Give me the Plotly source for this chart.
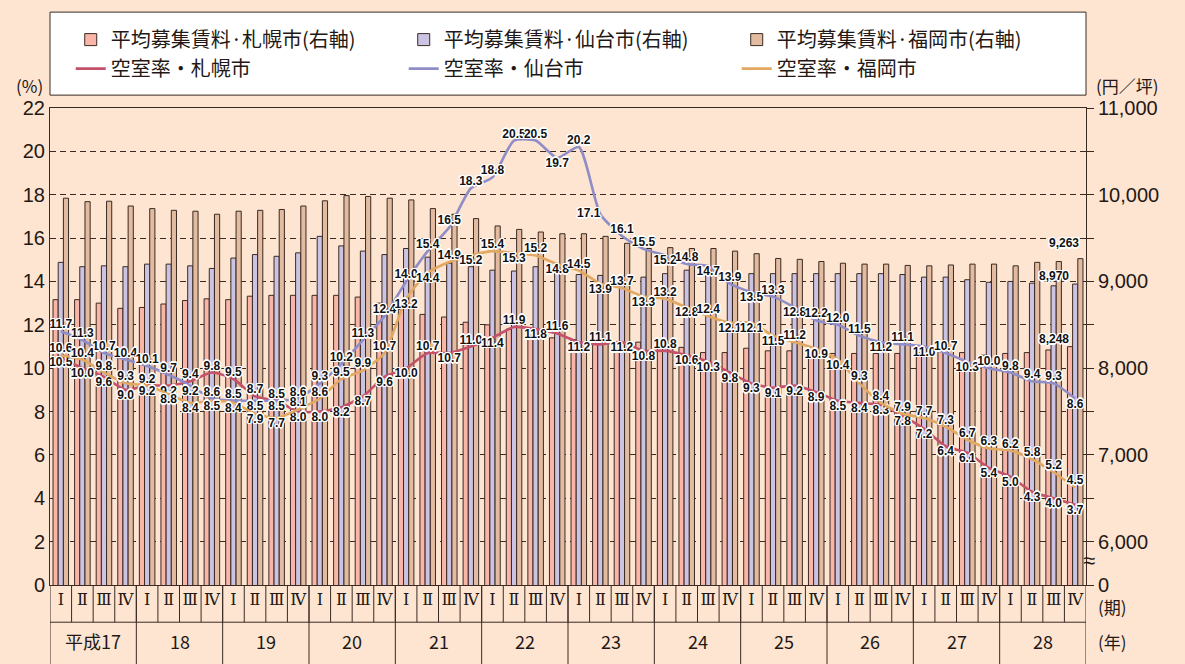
import plotly.graph_objects as go

# ---------------- data ----------------
quarter_labels = ['Ⅰ', 'Ⅱ', 'Ⅲ', 'Ⅳ'] * 12
year_labels = ['平成17', '18', '19', '20', '21', '22', '23', '24', '25', '26', '27', '28']

rent_sapporo = [8790, 8790, 8750, 8690, 8700, 8740, 8780, 8800, 8790, 8830, 8840, 8840,
                8840, 8840, 8820, 8750, 8680, 8620, 8590, 8530, 8500, 8450, 8380, 8350,
                8330, 8320, 8300, 8300, 8270, 8240, 8180, 8180, 8230, 8200, 8200, 8180,
                8170, 8170, 8170, 8170, 8180, 8200, 8180, 8150, 8170, 8180, 8210, 8248]
rent_sendai = [9220, 9170, 9180, 9170, 9200, 9200, 9180, 9150, 9270, 9310, 9290, 9330,
               9520, 9410, 9350, 9310, 9380, 9280, 9210, 9170, 9130, 9120, 9170, 9110,
               9080, 9070, 9060, 9050, 9090, 9130, 9130, 9090, 9090, 9090, 9090, 9090,
               9090, 9090, 9090, 9080, 9050, 9050, 9020, 8990, 9000, 8980, 8950, 8970]
rent_fukuoka = [9960, 9920, 9925, 9870, 9840, 9820, 9810, 9775, 9810, 9820, 9830, 9870,
                9930, 9990, 9980, 9960, 9940, 9840, 9775, 9725, 9640, 9600, 9570, 9550,
                9550, 9520, 9440, 9380, 9390, 9380, 9380, 9350, 9320, 9265, 9255, 9230,
                9210, 9200, 9200, 9185, 9180, 9190, 9200, 9200, 9180, 9220, 9230, 9263]

vac_sapporo = [10.5, 10.0, 9.6, 9.0, 9.2, 9.2, 9.4, 9.8, 9.5, 8.7, 8.5, 8.0,
               8.0, 8.2, 8.7, 9.6, 10.0, 10.7, 10.7, 11.0, 11.4, 11.9, 11.8, 11.6,
               11.2, 11.1, 11.2, 10.8, 10.8, 10.6, 10.3, 9.8, 9.3, 9.1, 9.2, 8.9,
               8.5, 8.4, 8.3, 7.8, 7.2, 6.4, 6.1, 5.4, 5.0, 4.3, 4.0, 3.7]
vac_sendai = [11.7, 11.3, 10.7, 10.4, 10.1, 9.7, 9.2, 8.6, 8.5, 8.5, 8.5, 8.6,
              9.3, 10.2, 11.3, 12.4, 14.0, 15.4, 16.5, 18.3, 18.8, 20.5, 20.5, 19.7,
              20.2, 17.1, 16.1, 15.5, 15.2, 14.8, 14.7, 13.9, 13.5, 13.3, 12.8, 12.2,
              12.0, 11.5, 11.2, 11.1, 11.0, 10.7, 10.3, 10.0, 9.8, 9.4, 9.3, 8.6]
vac_fukuoka = [10.6, 10.4, 9.8, 9.3, 9.2, 8.8, 8.4, 8.5, 8.4, 7.9, 7.7, 8.1,
               8.6, 9.5, 9.9, 10.7, 13.2, 14.4, 14.9, 15.2, 15.4, 15.3, 15.2, 14.8,
               14.5, 13.9, 13.7, 13.3, 13.2, 12.8, 12.4, 12.1, 12.1, 11.5, 11.2, 10.9,
               10.4, 9.3, 8.4, 7.9, 7.7, 7.3, 6.7, 6.3, 6.2, 5.8, 5.2, 4.5]

right_tick_vals = [5500, 6000, 6500, 7000, 7500, 8000, 8500, 9000, 9500, 10000, 10500, 11000]
right_tick_text = ['0', '6,000', '', '7,000', '', '8,000', '', '9,000', '', '10,000', '', '11,000']
left_tick_vals = [0, 2, 4, 6, 8, 10, 12, 14, 16, 18, 20, 22]

# ---------------- styles ----------------
T, B, L = 'top center', 'bottom center', 'middle left'
pos_sendai = [T, T, T, T, T, T, B, T, T, B, B, T,
              T, T, T, T, T, T, T, T, T, T, T, B,
              T, L, T, T, B, T, B, T, B, T, B, T,
              T, T, B, T, B, T, B, T, T, T, T, B]
pos_sapporo = [B, B, B, B, T, B, T, T, T, T, T, B,
               B, B, B, B, B, T, B, T, B, T, B, T,
               B, T, B, B, T, B, B, B, B, B, B, B,
               B, B, B, B, B, B, B, B, B, B, B, B]
pos_fukuoka = [T, T, T, T, B, B, B, B, B, B, B, T,
               T, T, T, T, B, B, T, B, T, B, T, B,
               T, B, T, B, T, B, T, B, B, B, T, B,
               B, T, T, T, T, T, T, T, T, T, T, T]

C_PINK, C_LAV, C_TAN = '#F9B6A8', '#CBC3E3', '#E3BBA0'
C_RED, C_BLUE, C_ORANGE = '#C4506A', '#8F8DC8', '#E2A862'
BG = '#FDE5D1'
INK = '#231815'
EDGE = '#3a2a22'
HALO = ('-1px -1px 0 #fff, 1px -1px 0 #fff, -1px 1px 0 #fff, 1px 1px 0 #fff, '
        '0 -1.5px 0 #fff, 0 1.5px 0 #fff, -1.5px 0 0 #fff, 1.5px 0 0 #fff')
JP = 'Noto Sans CJK JP'
NUM = 'Liberation Sans'
LBL = dict(family=NUM, size=12, color='#111', weight='bold', shadow=HALO)

x = list(range(len(quarter_labels)))

fig = go.Figure()
for name, vals, col in [('平均募集賃料·札幌市(右軸)', rent_sapporo, C_PINK),
                        ('平均募集賃料·仙台市(右軸)', rent_sendai, C_LAV),
                        ('平均募集賃料·福岡市(右軸)', rent_fukuoka, C_TAN)]:
    fig.add_trace(go.Bar(x=x, y=vals, name=name, marker=dict(color=col, line=dict(color=EDGE, width=1)),
                         yaxis='y', hoverinfo='skip'))

for name, vals, col, pos in [('空室率・札幌市', vac_sapporo, C_RED, pos_sapporo),
                             ('空室率・仙台市', vac_sendai, C_BLUE, pos_sendai),
                             ('空室率・福岡市', vac_fukuoka, C_ORANGE, pos_fukuoka)]:
    fig.add_trace(go.Scatter(x=x, y=vals, name=name, mode='lines+text', yaxis='y2',
                             line=dict(color=col, width=2.6, shape='spline', smoothing=0.6),
                             text=[f'{v:.1f}' for v in vals], textposition=pos,
                             textfont=LBL, cliponaxis=False, hoverinfo='skip'))

# value labels for the last quarter's rents
for vals, dx, dy in [(rent_sapporo, -4, 8), (rent_sendai, -4, 8), (rent_fukuoka, 6, 16)]:
    fig.add_annotation(x=x[-1], y=vals[-1], xref='x', yref='y', text=f'{vals[-1]:,}', showarrow=False,
                       xanchor='right', yanchor='middle', xshift=dx, yshift=dy, font=LBL)

# year labels under the quarter row
for i, yl in enumerate(year_labels):
    fig.add_annotation(x=4 * i + 1.5, y=-0.118, xref='x', yref='paper', text=yl, showarrow=False,
                       font=dict(family=JP, size=18, color=INK), yanchor='middle')

# table lines and legend box
shapes = [dict(type='rect', xref='paper', yref='paper', x0=0, x1=1, y0=1.027, y1=1.201,
               fillcolor='#ffffff', line=dict(color=EDGE, width=1), layer='above')]
for k in range(1, 48):
    shapes.append(dict(type='line', xref='x', yref='paper', x0=k - 0.5, x1=k - 0.5, y0=0, y1=-0.078,
                       line=dict(color=EDGE, width=1)))
for k in range(0, 13):
    shapes.append(dict(type='line', xref='x', yref='paper', x0=4 * k - 0.5, x1=4 * k - 0.5, y0=0, y1=-0.2,
                       line=dict(color=EDGE, width=1)))
shapes.append(dict(type='line', xref='x', yref='paper', x0=-0.5, x1=47.5, y0=-0.078, y1=-0.078,
                   line=dict(color=EDGE, width=1)))

anns = [
    dict(text='(%)', x=0, y=1.048, xref='paper', yref='paper', xanchor='right', yanchor='middle', xshift=-5),
    dict(text='(円／坪)', x=1, y=1.048, xref='paper', yref='paper', xanchor='left', yanchor='middle', xshift=8),
    dict(text='(期)', x=1, y=-0.046, xref='paper', yref='paper', xanchor='left', yanchor='middle', xshift=10),
    dict(text='(年)', x=1, y=-0.118, xref='paper', yref='paper', xanchor='left', yanchor='middle', xshift=10),
    dict(text='≈', x=1, y=5780, xref='paper', yref='y', xanchor='center', yanchor='middle', xshift=3,
         font=dict(family=NUM, size=22, color=INK)),
]
for a in anns:
    a.setdefault('font', dict(family=JP, size=17, color=INK))
    a['showarrow'] = False
    fig.add_annotation(**a)

fig.update_layout(
    width=1185, height=664,
    margin=dict(l=50, r=99, t=108, b=79),
    paper_bgcolor=BG, plot_bgcolor=BG,
    barmode='group', bargap=0.28, bargroupgap=0,
    showlegend=True,
    legend=dict(orientation='h', x=0.02, xanchor='left', y=1.113, yanchor='middle',
                bgcolor='rgba(0,0,0,0)', borderwidth=0,
                entrywidth=288, entrywidthmode='pixels', itemwidth=30,
                font=dict(family=JP, size=20, color=INK), traceorder='normal'),
    xaxis=dict(range=[-0.5, 47.5], tickmode='array', tickvals=x, ticktext=quarter_labels,
               tickfont=dict(family='DejaVu Serif', size=16, color=INK), ticks='', showgrid=False,
               zeroline=False, showline=True, linecolor=EDGE, linewidth=1, mirror=True, fixedrange=True),
    yaxis=dict(side='right', range=[5500, 11000], tickmode='array', tickvals=right_tick_vals,
               ticktext=right_tick_text, ticks='outside', ticklen=7, tickcolor=EDGE,
               tickfont=dict(family=NUM, size=20, color=INK), showgrid=True, gridcolor=EDGE,
               griddash='6px,4px', gridwidth=1, zeroline=False, showline=True, linecolor=EDGE,
               linewidth=1),
    yaxis2=dict(side='left', overlaying='y', range=[0, 22], tickmode='array', tickvals=left_tick_vals,
                tickfont=dict(family=NUM, size=20, color=INK), showgrid=False, zeroline=False,
                showline=True, linecolor=EDGE, linewidth=1, ticks=''),
    shapes=shapes,
)

fig.write_html('out.html', config={'displayModeBar': False},
               post_script="document.body.style.margin='0';document.body.style.background='#FDE5D1';")
